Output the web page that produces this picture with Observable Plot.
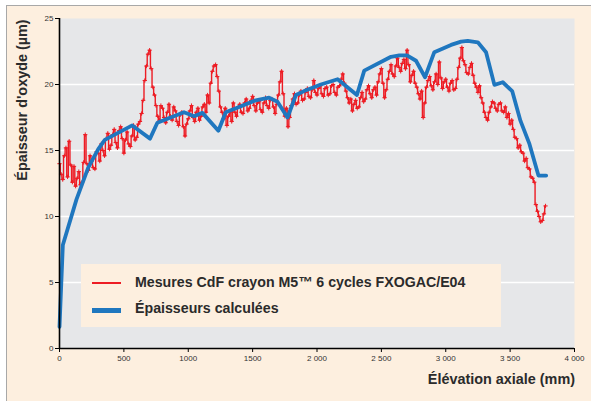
<!DOCTYPE html>
<html><head><meta charset="utf-8">
<script src="https://cdn.jsdelivr.net/npm/d3@7"></script>
<script src="https://cdn.jsdelivr.net/npm/@observablehq/plot@0.6"></script>
<style>
html,body{margin:0;padding:0;background:#fff;}
#wrap{position:relative;width:591px;height:401px;overflow:hidden;font-family:"Liberation Sans",Arial,sans-serif;}
#bg{position:absolute;left:6px;top:5px;width:620px;height:420px;background:#fdefdf;border-left:1px solid #a8a8a8;border-top:1px solid #a8a8a8;}
#chart{position:absolute;left:0;top:0;}
.ttl{position:absolute;font-weight:bold;font-size:14.4px;color:#2b2b2b;white-space:nowrap;}
#ytitle{left:22px;top:100px;transform:translate(-50%,-50%) rotate(-90deg);}
#xtitle{right:16px;top:371px;}
#legend{position:absolute;left:81px;top:264px;width:420px;height:63px;background:#fdefdf;}
.lg{position:absolute;left:54px;font-weight:bold;font-size:14.2px;color:#2b2b2b;white-space:nowrap;}
.sw{position:absolute;left:11px;width:29px;}
</style></head>
<body>
<div id="wrap">
  <div id="bg"></div>
  <div id="chart"></div>
  <div id="legend">
    <div class="sw" style="top:18px;height:2px;background:#ed1c24"></div>
    <div class="lg" style="top:10px">Mesures CdF crayon M5™ 6 cycles FXOGAC/E04</div>
    <div class="sw" style="top:44px;height:5px;background:#1f77bf"></div>
    <div class="lg" style="top:36px">Épaisseurs calculées</div>
  </div>
  <div class="ttl" id="ytitle">Épaisseur d'oxyde (µm)</div>
  <div class="ttl" id="xtitle">Élévation axiale (mm)</div>
</div>
<script>
const elevation = [
  0,12.5,25,37.5,50,62.5,75,87.5,100,112.5,125,137.5,150,162.5,175,187.5,
  200,212.5,225,237.5,250,262.5,275,287.5,300,312.5,325,337.5,350,362.5,375,387.5,
  400,412.5,425,437.5,450,462.5,475,487.5,500,512.5,525,537.5,550,562.5,575,587.5,
  600,612.5,625,637.5,650,662.5,675,687.5,700,712.5,725,737.5,750,762.5,775,787.5,
  800,812.5,825,837.5,850,862.5,875,887.5,900,912.5,925,937.5,950,962.5,975,987.5,
  1000,1012.5,1025,1037.5,1050,1062.5,1075,1087.5,1100,1112.5,1125,1137.5,1150,1162.5,1175,1187.5,
  1200,1212.5,1225,1237.5,1250,1262.5,1275,1287.5,1300,1312.5,1325,1337.5,1350,1362.5,1375,1387.5,
  1400,1412.5,1425,1437.5,1450,1462.5,1475,1487.5,1500,1512.5,1525,1537.5,1550,1562.5,1575,1587.5,
  1600,1612.5,1625,1637.5,1650,1662.5,1675,1687.5,1700,1712.5,1725,1737.5,1750,1762.5,1775,1787.5,
  1800,1812.5,1825,1837.5,1850,1862.5,1875,1887.5,1900,1912.5,1925,1937.5,1950,1962.5,1975,1987.5,
  2000,2012.5,2025,2037.5,2050,2062.5,2075,2087.5,2100,2112.5,2125,2137.5,2150,2162.5,2175,2187.5,
  2200,2212.5,2225,2237.5,2250,2262.5,2275,2287.5,2300,2312.5,2325,2337.5,2350,2362.5,2375,2387.5,
  2400,2412.5,2425,2437.5,2450,2462.5,2475,2487.5,2500,2512.5,2525,2537.5,2550,2562.5,2575,2587.5,
  2600,2612.5,2625,2637.5,2650,2662.5,2675,2687.5,2700,2712.5,2725,2737.5,2750,2762.5,2775,2787.5,
  2800,2812.5,2825,2837.5,2850,2862.5,2875,2887.5,2900,2912.5,2925,2937.5,2950,2962.5,2975,2987.5,
  3000,3012.5,3025,3037.5,3050,3062.5,3075,3087.5,3100,3112.5,3125,3137.5,3150,3162.5,3175,3187.5,
  3200,3212.5,3225,3237.5,3250,3262.5,3275,3287.5,3300,3312.5,3325,3337.5,3350,3362.5,3375,3387.5,
  3400,3412.5,3425,3437.5,3450,3462.5,3475,3487.5,3500,3512.5,3525,3537.5,3550,3562.5,3575,3587.5,
  3600,3612.5,3625,3637.5,3650,3662.5,3675,3687.5,3700,3712.5,3725,3737.5,3750,3762.5,3775
];
const measured = [
  14.0,13.2,12.8,14.6,15.2,13.0,15.7,13.9,12.6,13.8,12.3,12.9,13.4,12.4,12.6,14.1,
  16.2,14.0,13.5,14.6,14.2,13.7,13.6,14.9,14.8,14.2,15.5,15.0,14.6,15.9,16.3,15.1,
  15.4,16.2,16.6,15.6,15.2,16.5,16.8,15.9,14.8,15.8,16.4,15.5,15.3,16.1,16.9,15.8,
  16.0,17.0,17.2,17.8,18.8,20.3,21.4,22.3,22.6,21.2,19.8,19.2,18.4,17.6,17.3,18.4,
  18.2,17.5,17.1,17.9,18.5,17.6,17.3,18.3,18.0,17.2,16.9,17.7,17.9,16.8,16.1,17.0,
  17.4,18.0,18.4,17.5,17.2,17.9,18.2,17.3,17.6,18.3,18.5,17.9,19.2,18.6,20.1,21.0,
  21.4,21.5,20.6,19.5,18.3,17.9,17.4,18.2,16.9,17.6,17.9,17.2,18.6,17.9,17.6,18.3,
  18.5,17.9,17.8,18.6,18.9,18.0,18.2,18.8,19.1,18.4,18.0,18.6,18.7,18.1,17.9,18.6,
  19.0,18.4,18.2,18.8,18.9,18.3,17.8,18.5,19.2,20.2,21.0,19.3,17.6,18.2,16.8,17.5,
  18.4,18.9,19.3,18.5,18.6,19.2,19.5,18.8,18.9,19.4,19.7,19.1,19.0,19.6,20.3,19.4,
  19.2,19.7,19.9,19.3,19.1,19.7,19.8,19.2,19.3,19.9,20.0,19.4,19.2,19.8,19.9,20.4,
  20.8,20.1,19.5,19.0,18.6,18.9,18.0,18.5,18.8,18.2,18.3,19.0,19.4,18.7,18.9,19.6,
  19.9,19.3,19.0,19.6,19.8,19.2,20.2,20.8,21.2,20.1,19.0,19.6,20.4,21.0,21.5,20.8,
  20.6,21.4,22.0,21.3,21.0,21.6,21.9,21.2,22.6,21.5,20.2,20.7,21.0,20.1,19.8,19.3,
  18.9,19.5,17.5,18.6,19.8,20.3,20.6,19.9,19.6,20.2,20.8,20.0,21.7,20.5,19.7,20.2,
  20.4,19.8,19.5,20.1,20.3,19.6,19.7,20.4,21.3,22.0,22.8,21.8,21.5,20.9,20.8,21.3,
  21.6,20.7,20.1,19.8,19.4,19.9,19.0,18.6,17.9,17.5,17.3,17.9,18.3,18.7,18.6,18.2,
  18.0,18.5,18.6,18.0,17.9,18.3,17.5,17.8,17.0,17.3,16.6,16.0,15.9,15.2,15.4,14.9,
  14.8,14.2,14.4,13.7,13.6,13.0,12.9,12.6,10.9,10.4,10.0,9.6,9.7,10.2,10.8
];
const calcElevation = [0,26,132,223,301,352,565,703,760,967,1045,1110,1234,1291,1395,1524,1628,1693,1771,1836,1900,2030,2160,2310,2367,2575,2639,2699,2769,2839,2911,3041,3119,3171,3249,3313,3378,3443,3516,3580,3650,3720,3780];
const calcThickness = [1.64,7.84,11.3,13.7,15.1,15.8,16.9,15.9,17.1,17.9,17.6,17.85,16.5,17.9,18.3,18.8,19.0,18.7,17.5,19.2,19.5,20.0,20.4,19.2,21.05,22.1,22.2,22.2,21.8,20.55,22.45,23.0,23.25,23.3,23.2,22.45,19.97,20.17,19.5,17.26,15.5,13.1,13.1];
const xTicks = [0,500,1000,1500,2000,2500,3000,3500,4000];
const xTickLabels = ["0","500","1000","1500","2 000","2 500","3 000","3 500","4 000"];
const yTicks = [0,5,10,15,20,25];

const meas = elevation.map((x, i) => ({x, y: measured[i]}));
const calc = calcElevation.map((x, i) => ({x, y: calcThickness[i]}));

const chart = Plot.plot({
  width: 591, height: 401,
  marginLeft: 59, marginRight: 17, marginTop: 18, marginBottom: 53,
  style: {background: "transparent", fontFamily: "Liberation Sans, Arial, sans-serif", fontSize: "8px", color: "#333"},
  x: {domain: [0, 4000]},
  y: {domain: [0, 25]},
  marks: [
    Plot.frame({fill: "#e6e7e9", stroke: null}),
    Plot.gridY(yTicks.filter(d => d > 0 && d < 25), {stroke: "#fff", strokeOpacity: 1, strokeWidth: 1.5}),
    Plot.line(meas, {x: "x", y: "y", curve: "step", stroke: "#ed1c24", strokeWidth: 1.4}),
    Plot.dot(meas, {x: "x", y: "y", symbol: "plus", r: 1.5, stroke: "#ed1c24", strokeWidth: 1}),
    Plot.line(calc, {x: "x", y: "y", stroke: "#1f77bf", strokeWidth: 3.8}),
    Plot.ruleX([0], {stroke: "#000", strokeWidth: 1.6}),
    Plot.ruleY([0], {stroke: "#000", strokeWidth: 1.6}),
    Plot.axisY({ticks: yTicks, tickSize: 4, tickPadding: 2, label: null, stroke: "#000", color: "#333"}),
    Plot.axisX({ticks: xTicks, tickSize: 4, tickPadding: 3, label: null, stroke: "#000", color: "#333",
      tickFormat: d => xTickLabels[xTicks.indexOf(d)]})
  ]
});
document.getElementById("chart").appendChild(chart);
</script>
</body></html>
